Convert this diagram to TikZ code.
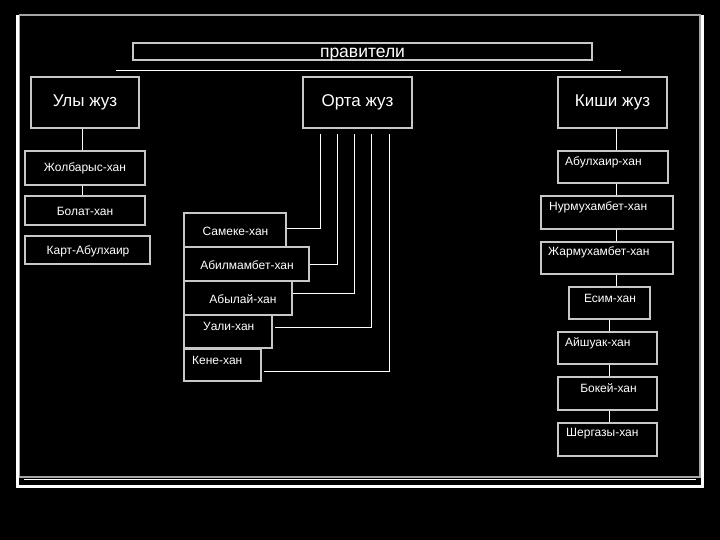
\documentclass[tikz,border=0pt]{standalone}
\usepackage{fontspec}
\setmainfont{Liberation Sans}
\definecolor{boxc}{RGB}{200,200,200}
\definecolor{framec}{RGB}{165,165,165}
\begin{document}
\begin{tikzpicture}[x=1pt,y=-1pt,
  box/.style={draw=boxc,line width=1.2pt,fill=black,inner sep=0pt},
  big/.style={text=white,font=\fontsize{17}{20}\selectfont},
  small/.style={text=white,font=\fontsize{12}{14}\selectfont,inner sep=0pt},
  conn/.style={draw=white,line width=1pt}]
\fill[black] (0,0) rectangle (720,540);
\useasboundingbox (0,0) rectangle (720,540);
% frame
\draw[framec,line width=1.5pt] (19.5,15) rectangle (700,477);
\draw[white,line width=3pt] (17.5,15) -- (17.5,486.5) -- (702,486.5) -- (702,15);
\draw[white,line width=1pt] (24,479.5) -- (696,479.5);
% title
\node[box,minimum width=459pt,minimum height=17pt] (title) at (362.5,51.5) {};
\node[small,font=\fontsize{17.5}{20}\selectfont,anchor=base] (titlet) at (362.5,58) {правители};
\coordinate (ls) at (116,71);
\coordinate (le) at (621,71);
\draw[conn] (ls) -- (le);
% zhuz boxes
\node[box,big,minimum width=108pt,minimum height=51pt] (ulu) at (85,102.5) {Улы жуз};
\node[box,big,minimum width=109pt,minimum height=51pt] (orta) at (357.5,102.5) {Орта жуз};
\node[box,big,minimum width=109pt,minimum height=51pt] (kishi) at (612.5,102.5) {Киши жуз};
% left column
\node[box,minimum width=120pt,minimum height=34pt] (zh) at (85,168) {};
\node[small] (zht) at (85,168) {Жолбарыс-хан};
\node[box,minimum width=120pt,minimum height=29pt] (bol) at (85,210.5) {};
\node[small] (bolt) at (85,211) {Болат-хан};
\node[box,minimum width=125pt,minimum height=28pt] (kart) at (87.5,250) {};
\node[small] (kartt) at (88,251) {Карт-Абулхаир};
\coordinate (xl) at (82,0);
\draw[conn] (ulu.south -| xl) -- (zh.north -| xl);
\draw[conn] (zh.south -| xl) -- (bol.north -| xl);
% middle column
\node[box,minimum width=102pt,minimum height=34pt] (sam) at (235,230) {};
\node[small] (samt) at (235.5,231) {Самеке-хан};
\node[box,minimum width=125pt,minimum height=34pt] (abm) at (246.5,264) {};
\node[small] (abmt) at (247,265) {Абилмамбет-хан};
\node[box,minimum width=108pt,minimum height=34pt] (aby) at (238,298) {};
\node[small] (abyt) at (243,299) {Абылай-хан};
\node[box,minimum width=88pt,minimum height=33pt] (ual) at (228,331.5) {};
\node[small,anchor=west] (ualt) at (203,326) {Уали-хан};
\node[box,minimum width=77pt,minimum height=32pt] (ken) at (222.5,365) {};
\node[small,anchor=west] (kent) at (192,360) {Кене-хан};
\coordinate (c1) at (320,229);
\coordinate (c2) at (337,264);
\coordinate (c3) at (354,293);
\coordinate (c4) at (371,327);
\coordinate (c5) at (389,371);
\coordinate (u4) at (275,327);
\coordinate (u5) at (264,371);
\draw[conn] (sam.east |- c1) -- (c1) -- ([yshift=-5pt]orta.south -| c1);
\draw[conn] (abm.east |- c2) -- (c2) -- ([yshift=-5pt]orta.south -| c2);
\draw[conn] (aby.east |- c3) -- (c3) -- ([yshift=-5pt]orta.south -| c3);
\draw[conn] (u4) -- (c4) -- ([yshift=-5pt]orta.south -| c4);
\draw[conn] (u5) -- (c5) -- ([yshift=-5pt]orta.south -| c5);
% right column
\node[box,minimum width=110pt,minimum height=32pt] (abk) at (613,167) {};
\node[small,anchor=west] (abkt) at (565,162) {Абулхаир-хан};
\node[box,minimum width=132pt,minimum height=33pt] (nur) at (607,212.5) {};
\node[small,anchor=west] (nurt) at (549,207) {Нурмухамбет-хан};
\node[box,minimum width=132pt,minimum height=32pt] (zha) at (607,258) {};
\node[small,anchor=west] (zhat) at (548,252) {Жармухамбет-хан};
\node[box,minimum width=81pt,minimum height=32pt] (esi) at (609.5,303) {};
\node[small] (esit) at (610,298) {Есим-хан};
\node[box,minimum width=99pt,minimum height=32pt] (ais) at (607.5,348) {};
\node[small,anchor=west] (aist) at (565,343) {Айшуак-хан};
\node[box,minimum width=99pt,minimum height=33pt] (bok) at (607.5,393.5) {};
\node[small] (bokt) at (608.5,388) {Бокей-хан};
\node[box,minimum width=99pt,minimum height=33pt] (she) at (607.5,439.5) {};
\node[small,anchor=west] (shet) at (566,434) {Шергазы-хан};
\coordinate (xr) at (616,0);
\coordinate (xr2) at (609,0);
\draw[conn] (kishi.south -| xr) -- (abk.north -| xr);
\draw[conn] (abk.south -| xr) -- (nur.north -| xr);
\draw[conn] (nur.south -| xr) -- (zha.north -| xr);
\draw[conn] (zha.south -| xr) -- (esi.north -| xr);
\draw[conn] (esi.south -| xr2) -- (ais.north -| xr2);
\draw[conn] (ais.south -| xr2) -- (bok.north -| xr2);
\draw[conn] (bok.south -| xr2) -- (she.north -| xr2);
\end{tikzpicture}
\end{document}
